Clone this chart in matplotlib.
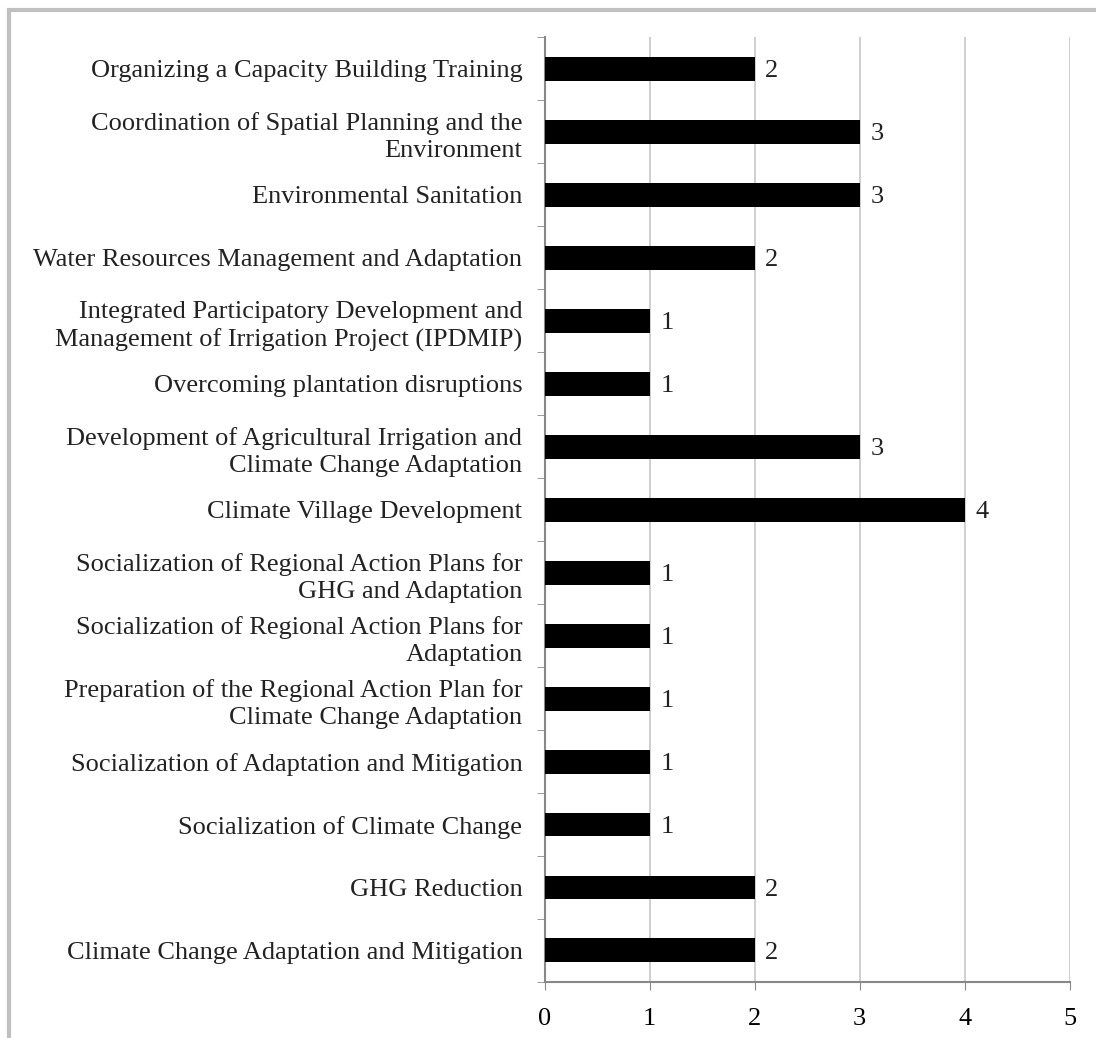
import matplotlib.pyplot as plt
from matplotlib.patches import Rectangle

# Activities and number of programmes, listed bottom to top
activities = [
    "Climate Change Adaptation and Mitigation",
    "GHG Reduction",
    "Socialization of Climate Change",
    "Socialization of Adaptation and Mitigation",
    "Preparation of the Regional Action Plan for\nClimate Change Adaptation",
    "Socialization of Regional Action Plans for\nAdaptation",
    "Socialization of Regional Action Plans for\nGHG and Adaptation",
    "Climate Village Development",
    "Development of Agricultural Irrigation and\nClimate Change Adaptation",
    "Overcoming plantation disruptions",
    "Integrated Participatory Development and\nManagement of Irrigation Project (IPDMIP)",
    "Water Resources Management and Adaptation",
    "Environmental Sanitation",
    "Coordination of Spatial Planning and the\nEnvironment",
    "Organizing a Capacity Building Training",
]
counts = [2, 2, 1, 1, 1, 1, 1, 4, 3, 1, 1, 2, 3, 3, 2]
x_ticks = [0, 1, 2, 3, 4, 5]

plt.rcParams['font.family'] = ['Liberation Serif', 'DejaVu Serif']
FS = 19

fig = plt.figure(figsize=(10.96, 10.38), dpi=100)
ax = fig.add_axes([0.497, 0.054, 0.479, 0.91])

# frame around the whole figure
fig.patches.append(Rectangle((0.008, -0.05), 1.1, 1.04, transform=fig.transFigure,
                             fill=False, edgecolor='#c0c0c0', linewidth=3))

pos = list(range(len(activities)))
ax.barh(pos, counts, height=0.38, color='black', zorder=3)
for y, v in zip(pos, counts):
    ax.text(v + 0.1, y, str(v), va='center_baseline', ha='left', fontsize=FS, color='#222')

ax.set_ylim(-0.5, len(activities) - 0.5)
ax.set_xlim(0, 5)
ax.set_xticks(x_ticks)
ax.tick_params(axis='x', labelsize=FS, length=6, color='#888', pad=13)

ax.set_yticks(pos)
ax.set_yticklabels(activities, fontsize=FS, color='#222', linespacing=1.3)
ax.tick_params(axis='y', which='major', length=0, pad=16)
# boundary ticks between categories
ax.set_yticks([p - 0.5 for p in range(len(activities) + 1)], minor=True)
ax.tick_params(axis='y', which='minor', length=6, color='#888')
for lab in ax.get_yticklabels():
    lab.set_horizontalalignment('right')

ax.grid(axis='x', color='#cccccc', linewidth=1.3, zorder=0)
for side in ['top', 'right']:
    ax.spines[side].set_visible(False)
for side in ['left', 'bottom']:
    ax.spines[side].set_color('#888')
    ax.spines[side].set_linewidth(1.5)

fig.savefig('out.png', dpi=100)
